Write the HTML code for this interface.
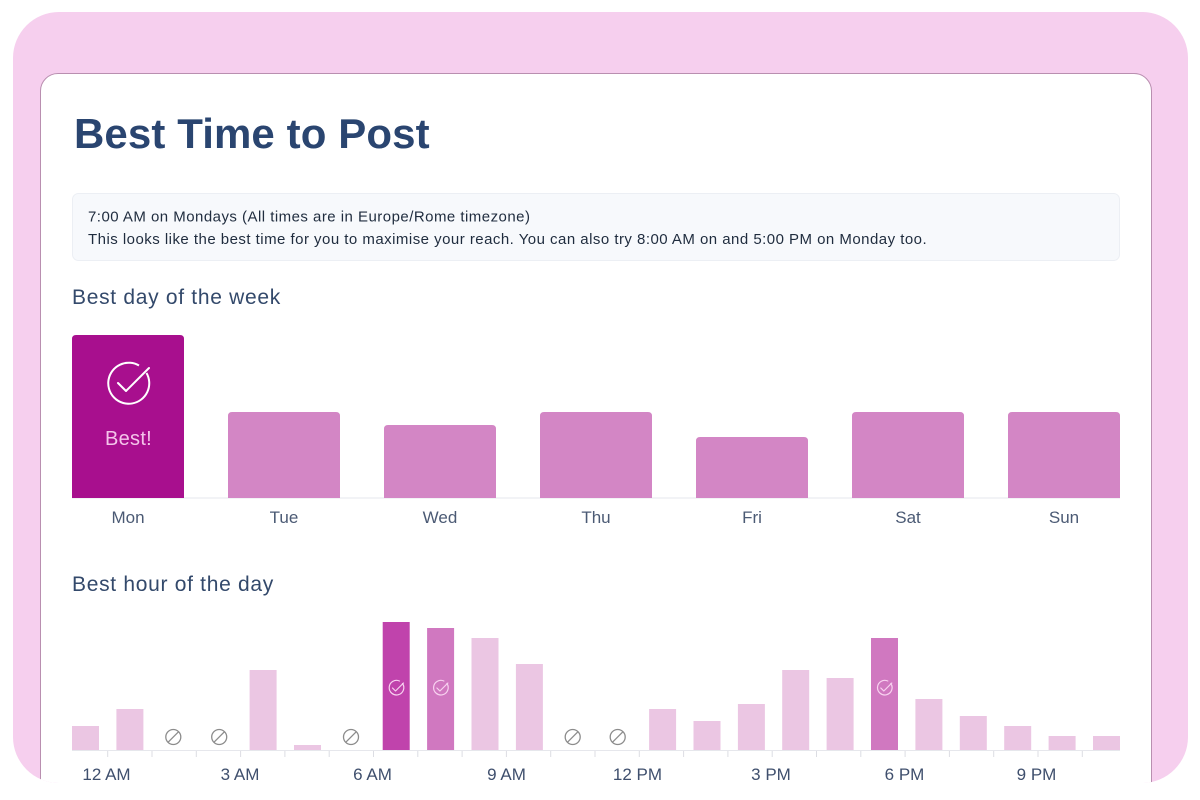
<!DOCTYPE html>
<html>
<head>
<meta charset="utf-8">
<style>
  html,body{margin:0;padding:0;background:#ffffff;}
  body{width:1200px;height:800px;position:relative;overflow:hidden;font-family:"Liberation Sans",Arial,sans-serif;}
  .frame{position:absolute;left:13px;top:12px;width:1175px;height:771px;background:#f6cfee;border-radius:46px;overflow:hidden;}
  .card{position:absolute;left:27px;top:61px;width:1110px;height:760px;background:#ffffff;border:1px solid #b98fb0;border-radius:18px;}
  svg{position:absolute;left:0;top:0;}
  text{font-family:"Liberation Sans",Arial,sans-serif;}
</style>
</head>
<body>
<div class="frame"><div class="card"></div></div>
<svg width="1200" height="783" viewBox="0 0 1200 783">
  <!-- Title -->
  <text x="74" y="148" font-size="42" font-weight="bold" fill="#2a4570" letter-spacing="0.1">Best Time to Post</text>

  <!-- Info box -->
  <rect x="72.5" y="193.5" width="1047" height="67" rx="6" fill="#f7f9fc" stroke="#eceff4"/>
  <text x="88" y="221.5" font-size="15" fill="#1f2c3e" letter-spacing="0.47">7:00 AM on Mondays (All times are in Europe/Rome timezone)</text>
  <text x="88" y="244" font-size="15" fill="#1f2c3e" letter-spacing="0.47">This looks like the best time for you to maximise your reach. You can also try 8:00 AM on and 5:00 PM on Monday too.</text>

  <!-- Best day heading -->
  <text x="72" y="304" font-size="21" fill="#33496b" letter-spacing="0.7">Best day of the week</text>

  <!-- Day chart -->
  <line x1="72" y1="498" x2="1120" y2="498" stroke="#e6e7ec" stroke-width="1"/>
  <path d="M72,498 V339 Q72,335 76,335 H180 Q184,335 184,339 V498 Z" fill="#a80f8e"/>
  <path d="M228,498 V416 Q228,412 232,412 H336 Q340,412 340,416 V498 Z" fill="#d386c5"/>
  <path d="M384,498 V429 Q384,425 388,425 H492 Q496,425 496,429 V498 Z" fill="#d386c5"/>
  <path d="M540,498 V416 Q540,412 544,412 H648 Q652,412 652,416 V498 Z" fill="#d386c5"/>
  <path d="M696,498 V441 Q696,437 700,437 H804 Q808,437 808,441 V498 Z" fill="#d386c5"/>
  <path d="M852,498 V416 Q852,412 856,412 H960 Q964,412 964,416 V498 Z" fill="#d386c5"/>
  <path d="M1008,498 V416 Q1008,412 1012,412 H1116 Q1120,412 1120,416 V498 Z" fill="#d386c5"/>

  <!-- Mon check icon -->
  <path d="M146.5,373 A20.5,20.5 0 1 1 139,365.5" fill="none" stroke="#ffffff" stroke-width="2"/>
  <path d="M118,383 L126,391 L149,368" fill="none" stroke="#ffffff" stroke-width="2" stroke-linecap="round" stroke-linejoin="round"/>
  <text x="128.5" y="445" font-size="20" fill="#f4c4ea" text-anchor="middle" letter-spacing="0.3">Best!</text>

  <!-- Day labels -->
  <g font-size="17" fill="#4b5a74" text-anchor="middle">
    <text x="128" y="523">Mon</text>
    <text x="284" y="523">Tue</text>
    <text x="440" y="523">Wed</text>
    <text x="596" y="523">Thu</text>
    <text x="752" y="523">Fri</text>
    <text x="908" y="523">Sat</text>
    <text x="1064" y="523">Sun</text>
  </g>

  <!-- Best hour heading -->
  <text x="72" y="591" font-size="21" fill="#33496b" letter-spacing="0.7">Best hour of the day</text>

  <!-- Hour chart baseline & ticks -->
  <line x1="72" y1="750.5" x2="1120" y2="750.5" stroke="#e6e7ec" stroke-width="1"/>
  <g stroke="#dcdde3" stroke-width="1">
    <line x1="107.7" y1="751" x2="107.7" y2="757"/>
    <line x1="152" y1="751" x2="152" y2="757"/>
    <line x1="196.3" y1="751" x2="196.3" y2="757"/>
    <line x1="240.6" y1="751" x2="240.6" y2="757"/>
    <line x1="284.9" y1="751" x2="284.9" y2="757"/>
    <line x1="329.2" y1="751" x2="329.2" y2="757"/>
    <line x1="373.5" y1="751" x2="373.5" y2="757"/>
    <line x1="417.8" y1="751" x2="417.8" y2="757"/>
    <line x1="462.1" y1="751" x2="462.1" y2="757"/>
    <line x1="506.4" y1="751" x2="506.4" y2="757"/>
    <line x1="550.7" y1="751" x2="550.7" y2="757"/>
    <line x1="595" y1="751" x2="595" y2="757"/>
    <line x1="639.3" y1="751" x2="639.3" y2="757"/>
    <line x1="683.6" y1="751" x2="683.6" y2="757"/>
    <line x1="727.9" y1="751" x2="727.9" y2="757"/>
    <line x1="772.2" y1="751" x2="772.2" y2="757"/>
    <line x1="816.5" y1="751" x2="816.5" y2="757"/>
    <line x1="860.8" y1="751" x2="860.8" y2="757"/>
    <line x1="905.1" y1="751" x2="905.1" y2="757"/>
    <line x1="949.4" y1="751" x2="949.4" y2="757"/>
    <line x1="993.7" y1="751" x2="993.7" y2="757"/>
    <line x1="1038" y1="751" x2="1038" y2="757"/>
    <line x1="1082.3" y1="751" x2="1082.3" y2="757"/>
  </g>

  <!-- Hour bars -->
  <g fill="#ebc6e3">
    <rect x="72" y="726" width="27" height="24"/>
    <rect x="116.4" y="709" width="27" height="41"/>
    <rect x="249.6" y="670" width="27" height="80"/>
    <rect x="294" y="745" width="27" height="5"/>
    <rect x="471.5" y="638" width="27" height="112"/>
    <rect x="515.9" y="664" width="27" height="86"/>
    <rect x="649.1" y="709" width="27" height="41"/>
    <rect x="693.5" y="721" width="27" height="29"/>
    <rect x="737.9" y="704" width="27" height="46"/>
    <rect x="782.2" y="670" width="27" height="80"/>
    <rect x="826.6" y="678" width="27" height="72"/>
    <rect x="915.4" y="699" width="27" height="51"/>
    <rect x="959.8" y="716" width="27" height="34"/>
    <rect x="1004.2" y="726" width="27" height="24"/>
    <rect x="1048.6" y="736" width="27" height="14"/>
    <rect x="1093" y="736" width="27" height="14"/>
  </g>
  <rect x="382.7" y="622" width="27" height="128" fill="#c043ac"/>
  <rect x="427.1" y="628" width="27" height="122" fill="#d078c0"/>
  <rect x="871" y="638" width="27" height="112" fill="#d078c0"/>

  <!-- small check icons -->
  <g fill="none" stroke="#f8d2f0" stroke-width="1.2" stroke-linecap="round" stroke-linejoin="round">
    <path d="M402.5,683.5 A7.3,7.3 0 1 1 399.5,681"/>
    <path d="M392.5,688 L395.5,691 L403.5,683"/>
    <path d="M446.9,683.5 A7.3,7.3 0 1 1 443.9,681"/>
    <path d="M436.9,688 L439.9,691 L447.9,683"/>
    <path d="M890.8,683.5 A7.3,7.3 0 1 1 887.8,681"/>
    <path d="M880.8,688 L883.8,691 L891.8,683"/>
  </g>

  <!-- no-data icons -->
  <g fill="none" stroke="#8c8c8c" stroke-width="1.3">
    <circle cx="173.3" cy="737" r="7.5"/><line x1="168" y1="742.3" x2="178.6" y2="731.7"/>
    <circle cx="219.2" cy="737" r="7.5"/><line x1="213.9" y1="742.3" x2="224.5" y2="731.7"/>
    <circle cx="351" cy="737" r="7.5"/><line x1="345.7" y1="742.3" x2="356.3" y2="731.7"/>
    <circle cx="572.7" cy="737" r="7.5"/><line x1="567.4" y1="742.3" x2="578" y2="731.7"/>
    <circle cx="617.7" cy="737" r="7.5"/><line x1="612.4" y1="742.3" x2="623" y2="731.7"/>
  </g>

  <!-- Hour labels -->
  <g font-size="17" fill="#3f4f6d" text-anchor="middle">
    <text x="106.5" y="780">12 AM</text>
    <text x="240" y="780">3 AM</text>
    <text x="372.5" y="780">6 AM</text>
    <text x="506.5" y="780">9 AM</text>
    <text x="637.5" y="780">12 PM</text>
    <text x="771" y="780">3 PM</text>
    <text x="904.5" y="780">6 PM</text>
    <text x="1036.5" y="780">9 PM</text>
  </g>
</svg>
</body>
</html>
